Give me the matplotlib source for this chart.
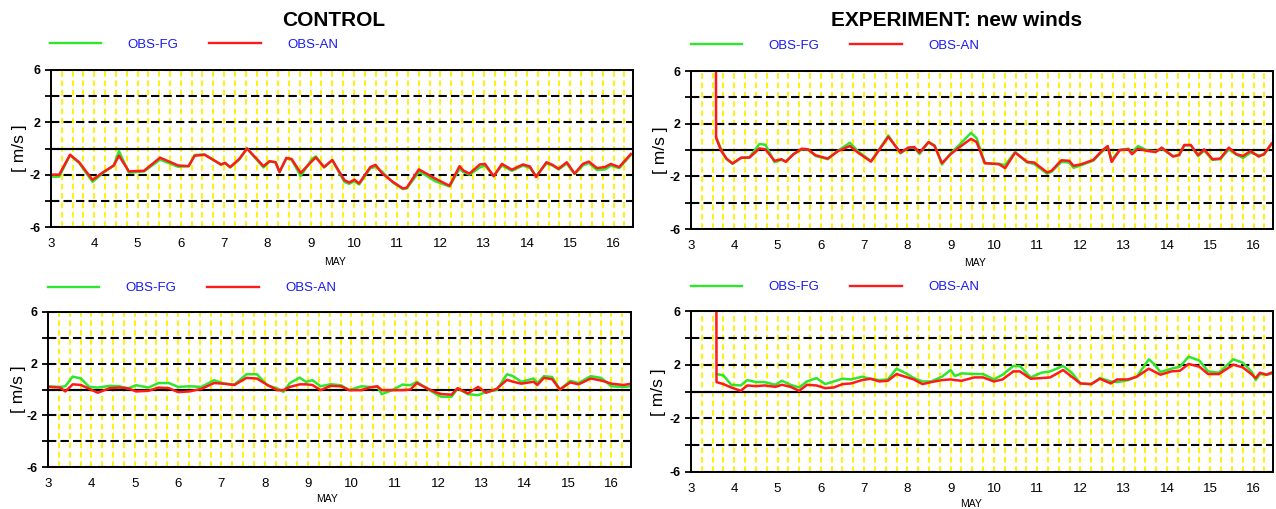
import numpy as np
import matplotlib
matplotlib.use("Agg")
import matplotlib.pyplot as plt
from matplotlib.ticker import MultipleLocator, FixedLocator

# ---------------- data ----------------
x_ticks = list(range(3, 17))
x_tick_labels = [str(d) for d in x_ticks]
y_ticks = [-6, -4, -2, 0, 2, 4, 6]
y_tick_labels = ['-6', '', '-2', '', '2', '', '6']
series_labels = ['OBS-FG', 'OBS-AN']
month_label = 'MAY'
unit_label = '[ m/s ]'
titles = ['CONTROL', 'EXPERIMENT: new winds']

# top-left (CONTROL, upper)
tl_t = [3.0, 3.19, 3.44, 3.65, 3.96, 4.21, 4.45, 4.57, 4.8, 5.15, 5.52, 5.94, 6.18, 6.32, 6.55, 6.93, 7.02,
        7.14, 7.35, 7.53, 7.91, 8.05, 8.19, 8.28, 8.44, 8.56, 8.77, 9.03, 9.12, 9.31, 9.5, 9.78, 9.89, 10.01,
        10.12, 10.38, 10.5, 10.66, 10.9, 11.13, 11.22, 11.5, 11.64, 11.88, 12.21, 12.44, 12.53, 12.67, 12.91,
        13.03, 13.23, 13.42, 13.65, 13.91, 14.07, 14.21, 14.45, 14.59, 14.73, 14.92, 15.1, 15.29, 15.43, 15.62,
        15.8, 15.94, 16.13, 16.4]
tl_an = [-2.0, -2.0, -0.48, -1.05, -2.4, -1.8, -1.3, -0.55, -1.75, -1.7, -0.7, -1.3, -1.35, -0.55, -0.48, -1.22,
         -1.1, -1.42, -0.8, 0.0, -1.35, -0.97, -1.05, -1.8, -0.72, -0.8, -1.87, -0.97, -0.68, -1.42, -0.88, -2.42,
         -2.6, -2.38, -2.67, -1.42, -1.25, -1.92, -2.55, -3.05, -3.0, -1.6, -1.85, -2.3, -2.85, -1.35, -1.68,
         -1.92, -1.22, -1.18, -2.12, -1.18, -1.62, -1.22, -1.38, -2.18, -1.05, -1.25, -1.55, -1.05, -1.92, -1.18,
         -1.0, -1.5, -1.42, -1.18, -1.42, -0.42]
tl_fg = [-2.15, -2.15, -0.5, -1.1, -2.55, -1.85, -1.3, -0.2, -1.85, -1.75, -0.85, -1.4, -1.35, -0.5, -0.45, -1.25,
         -1.1, -1.45, -0.85, 0.0, -1.45, -1.0, -1.05, -1.8, -0.75, -0.85, -2.1, -0.8, -0.6, -1.45, -0.9, -2.55,
         -2.7, -2.5, -2.75, -1.5, -1.4, -1.8, -2.6, -3.1, -3.05, -1.8, -2.0, -2.5, -2.9, -1.55, -1.8, -2.0, -1.45,
         -1.3, -2.1, -1.3, -1.7, -1.3, -1.5, -2.1, -1.15, -1.3, -1.6, -1.15, -1.95, -1.3, -1.1, -1.65, -1.6, -1.3,
         -1.5, -0.5]

# top-right (EXPERIMENT, upper)
tr_t = [3.575, 3.58, 3.7, 3.82, 3.96, 4.16, 4.35, 4.58, 4.72, 4.93, 5.09, 5.19, 5.37, 5.56, 5.7, 5.88, 6.16, 6.4,
        6.67, 6.86, 7.16, 7.33, 7.56, 7.84, 8.02, 8.16, 8.28, 8.49, 8.63, 8.8, 9.0, 9.19, 9.47, 9.6, 9.79, 10.12,
        10.26, 10.49, 10.77, 10.93, 11.23, 11.33, 11.56, 11.74, 11.84, 12.02, 12.3, 12.49, 12.63, 12.72, 12.91,
        13.11, 13.19, 13.33, 13.56, 13.74, 13.88, 14.14, 14.28, 14.4, 14.55, 14.72, 14.86, 15.05, 15.23, 15.43,
        15.6, 15.76, 15.93, 16.12, 16.24, 16.42]
tr_an = [9.0, 0.92, -0.08, -0.65, -1.02, -0.58, -0.58, 0.12, 0.05, -0.82, -0.7, -0.9, -0.32, 0.1, 0.05, -0.4,
         -0.65, -0.08, 0.3, -0.2, -0.88, -0.08, 1.0, -0.2, 0.18, 0.22, -0.2, 0.6, 0.3, -1.0, -0.32, 0.18, 0.85, 0.6,
         -1.0, -1.08, -1.38, -0.2, -0.9, -0.95, -1.7, -1.58, -0.78, -0.82, -1.2, -1.08, -0.75, -0.08, 0.3, -0.9,
         0.0, 0.05, -0.32, 0.1, -0.08, -0.15, 0.18, -0.5, -0.38, 0.38, 0.38, -0.4, 0.05, -0.7, -0.65, 0.18, -0.32,
         -0.45, -0.08, -0.5, -0.32, 0.5]
tr_fg = [np.nan, 1.0, 0.0, -0.7, -1.05, -0.6, -0.55, 0.45, 0.4, -0.92, -0.75, -0.85, -0.3, 0.05, 0.05, -0.45,
         -0.7, -0.05, 0.55, -0.1, -0.85, -0.05, 1.1, -0.25, 0.15, 0.2, -0.3, 0.6, 0.35, -1.1, -0.25, 0.35, 1.3,
         0.9, -1.0, -1.05, -1.15, -0.15, -0.95, -1.05, -1.8, -1.65, -0.9, -0.95, -1.35, -1.15, -0.8, -0.15, 0.25,
         -0.75, 0.0, 0.1, -0.2, 0.3, -0.05, -0.1, 0.1, -0.45, -0.4, 0.35, 0.35, -0.45, -0.05, -0.75, -0.7, 0.05,
         -0.35, -0.6, -0.2, -0.4, -0.35, 0.45]

# bottom-left (CONTROL, lower)
bl_t = [3.0, 3.28, 3.4, 3.57, 3.76, 3.95, 4.15, 4.42, 4.65, 4.84, 5.03, 5.32, 5.55, 5.79, 6.0, 6.26, 6.54, 6.83,
        7.06, 7.3, 7.58, 7.82, 8.06, 8.29, 8.43, 8.58, 8.81, 8.95, 9.1, 9.29, 9.52, 9.76, 9.95, 10.23, 10.42,
        10.6, 10.7, 10.94, 11.18, 11.36, 11.51, 11.74, 11.93, 12.07, 12.31, 12.45, 12.69, 12.92, 13.11, 13.35,
        13.59, 13.73, 13.92, 14.2, 14.29, 14.44, 14.63, 14.81, 15.05, 15.24, 15.52, 15.76, 16.0, 16.28, 16.45]
bl_fg = [0.25, 0.2, 0.25, 1.0, 0.85, 0.2, 0.15, 0.28, 0.25, 0.08, 0.33, 0.15, 0.5, 0.5, 0.2, 0.25, 0.2, 0.72,
         0.46, 0.38, 1.18, 1.18, 0.33, 0.08, -0.18, 0.5, 0.92, 0.59, 0.72, 0.25, 0.41, 0.33, -0.05, 0.25, 0.2,
         0.2, -0.36, -0.05, 0.38, 0.33, 0.59, 0.08, -0.31, -0.56, -0.56, 0.08, -0.36, -0.44, -0.18, -0.05, 1.18,
         1.03, 0.59, 0.85, 0.5, 1.03, 0.97, 0.0, 0.67, 0.5, 1.03, 0.9, 0.25, 0.2, 0.25]
bl_an = [0.2, 0.15, -0.15, 0.4, 0.35, 0.05, -0.25, 0.1, 0.15, 0.1, -0.15, -0.1, 0.15, 0.1, -0.2, -0.15, 0.05,
         0.5, 0.45, 0.35, 0.9, 0.85, 0.35, -0.05, -0.05, 0.2, 0.4, 0.4, 0.35, -0.05, 0.28, 0.25, -0.05, -0.05,
         0.15, 0.25, -0.05, -0.05, -0.05, 0.0, 0.5, 0.1, -0.2, -0.35, -0.4, 0.1, -0.3, 0.2, -0.25, 0.05, 0.75,
         0.6, 0.45, 0.6, 0.35, 0.9, 0.8, 0.0, 0.55, 0.4, 0.85, 0.7, 0.45, 0.35, 0.45]

# bottom-right (EXPERIMENT, lower)
br_t = [3.585, 3.59, 3.75, 3.93, 4.15, 4.3, 4.5, 4.7, 4.95, 5.1, 5.3, 5.5, 5.68, 5.9, 6.1, 6.3, 6.5, 6.7, 6.95,
        7.15, 7.35, 7.55, 7.75, 8.0, 8.15, 8.35, 8.55, 8.8, 9.0, 9.1, 9.25, 9.55, 9.75, 10.0, 10.2, 10.45, 10.6,
        10.85, 11.1, 11.3, 11.6, 11.8, 12.0, 12.25, 12.45, 12.7, 12.85, 13.1, 13.3, 13.58, 13.7, 13.85, 14.1,
        14.3, 14.5, 14.75, 14.95, 15.2, 15.53, 15.75, 15.95, 16.05, 16.15, 16.3, 16.45]
br_an = [9.0, 0.7, 0.55, 0.3, 0.05, 0.45, 0.4, 0.45, 0.35, 0.5, 0.35, 0.05, 0.5, 0.45, 0.25, 0.3, 0.55, 0.6,
         0.85, 0.95, 0.75, 0.8, 1.3, 1.05, 0.9, 0.55, 0.7, 0.85, 0.9, 0.85, 0.8, 1.05, 1.05, 0.75, 0.9, 1.5, 1.5,
         0.95, 1.0, 1.05, 1.6, 1.1, 0.6, 0.55, 0.95, 0.6, 0.9, 0.9, 1.1, 1.7, 1.5, 1.25, 1.5, 1.55, 2.05, 1.85,
         1.3, 1.3, 2.0, 1.8, 1.3, 1.0, 1.4, 1.25, 1.45]
br_fg = [np.nan, 1.3, 1.2, 0.5, 0.45, 0.85, 0.7, 0.7, 0.5, 0.8, 0.5, 0.3, 0.75, 1.0, 0.55, 0.75, 0.95, 0.9, 1.1,
         0.95, 0.85, 0.9, 1.7, 1.3, 1.0, 0.75, 0.75, 1.1, 1.6, 1.15, 1.35, 1.3, 1.3, 0.9, 1.25, 1.9, 1.9, 1.05,
         1.4, 1.5, 1.9, 1.4, 0.6, 0.55, 1.0, 0.75, 0.7, 0.85, 1.1, 2.4, 2.05, 1.45, 1.7, 1.85, 2.6, 2.3, 1.5, 1.4,
         2.4, 2.15, 1.5, 0.85, 1.3, 1.25, 1.35]

# ---------------- figure ----------------
W, H = 1276, 509
plt.rcParams['font.family'] = ['Liberation Sans', 'DejaVu Sans']
fig = plt.figure(figsize=(W / 100, H / 100), dpi=100)
fig.patch.set_facecolor('white')

GREEN = '#2EE62E'
RED = '#FF1A1A'
BLUE = '#1A1AF0'


def fx(px):
    return px / W


def fy(py):
    return 1 - py / H


panels = [
    # data, axes box (x0, y0, x1, y1 px), legend (x, y), MAY (x, y), ylabel (x, y)
    (tl_t, tl_fg, tl_an, (51, 70, 633, 227), (50, 45), (335, 262), (20, 148)),
    (tr_t, tr_fg, tr_an, (691, 71, 1273, 229), (691, 46), (975, 263), (661, 150)),
    (bl_t, bl_fg, bl_an, (48, 312, 631, 467), (48, 288), (327, 499), (18, 389)),
    (br_t, br_fg, br_an, (691, 311, 1273, 472), (691, 287), (971, 504), (659, 392)),
]

for t, fg, an, box, leg_xy, may_xy, yl_xy in panels:
    x0, y0, x1, y1 = box
    ax = fig.add_axes([fx(x0), fy(y1), fx(x1 - x0), (y1 - y0) / H])
    ax.set_xlim(3, 16.45)
    ax.set_ylim(-6, 6)
    ax.xaxis.set_major_locator(FixedLocator(x_ticks))
    ax.xaxis.set_minor_locator(MultipleLocator(0.25))
    ax.set_xticklabels(x_tick_labels)
    ax.set_yticks(y_ticks)
    ax.set_yticklabels(y_tick_labels, fontweight='bold')
    ax.grid(axis='x', which='both', color='#FFF000', lw=1.3, ls=(0, (3.2, 2.0)), zorder=0)
    ax.grid(axis='y', which='major', color='black', lw=1.5, ls=(0, (4, 2)), zorder=1)
    ax.axhline(0, color='black', lw=1.5, zorder=2)
    l1, = ax.plot(t, fg, color=GREEN, lw=1.8, label=series_labels[0], zorder=3)
    l2, = ax.plot(t, an, color=RED, lw=1.8, label=series_labels[1], zorder=4)
    ax.tick_params(axis='x', which='both', length=0, pad=8, labelsize=9.5)
    ax.tick_params(axis='y', length=4.5, width=1.3, pad=3, labelsize=9)
    for s in ax.spines.values():
        s.set_linewidth(1.4)
        s.set_zorder(5)

    leg = fig.legend(handles=[l1, l2], loc='center left',
                     bbox_to_anchor=(fx(leg_xy[0]), fy(leg_xy[1])),
                     ncol=2, frameon=False, fontsize=9.5, borderpad=0, borderaxespad=0,
                     handlelength=3.9, handletextpad=2.0, columnspacing=2.3)
    for txt in leg.get_texts():
        txt.set_color(BLUE)
    for ln in leg.get_lines():
        ln.set_linewidth(1.7)

    fig.text(fx(may_xy[0]), fy(may_xy[1]), month_label, ha='center', va='center', fontsize=7.5)
    fig.text(fx(yl_xy[0]), fy(yl_xy[1]), unit_label, ha='center', va='center',
             rotation=90, fontsize=12.5)

fig.text(fx(334), fy(20), titles[0], ha='center', va='center', fontsize=15, fontweight='bold')
fig.text(fx(957), fy(20), titles[1], ha='center', va='center', fontsize=15, fontweight='bold')

fig.savefig('out.png', dpi=100, facecolor='white')
